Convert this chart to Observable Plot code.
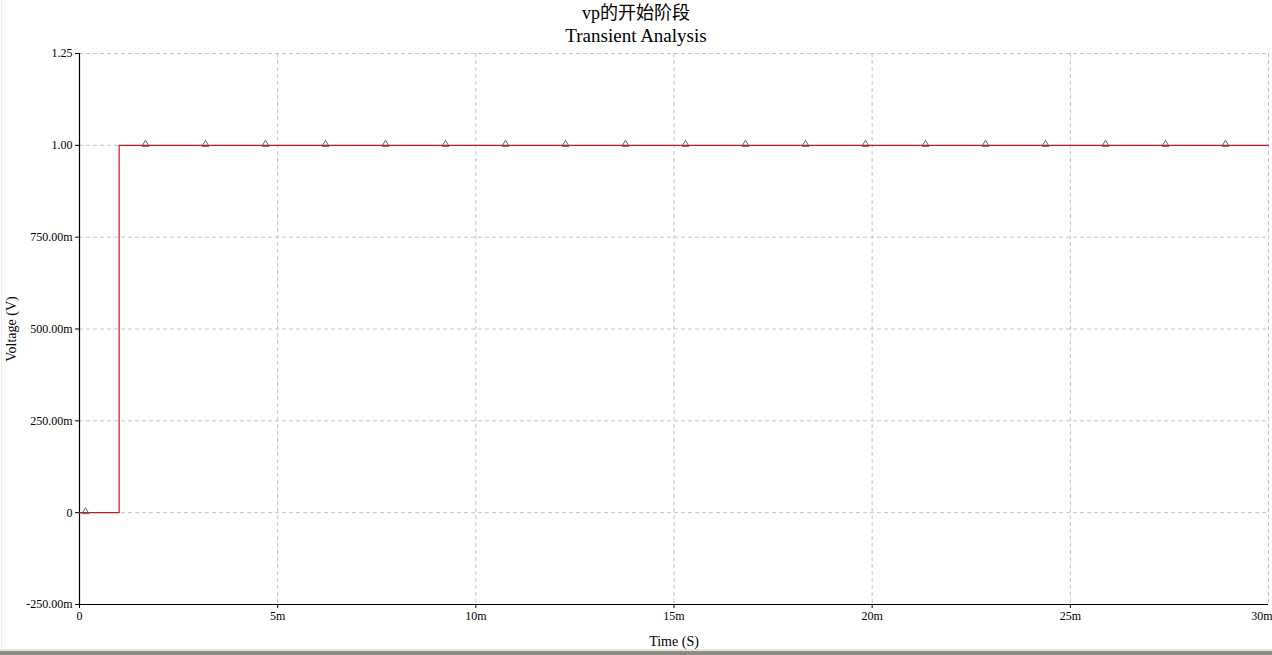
<!DOCTYPE html>
<html>
<head>
<meta charset="utf-8">
<script src="https://cdn.jsdelivr.net/npm/d3@7"></script>
<script src="https://cdn.jsdelivr.net/npm/@observablehq/plot@0.6"></script>
<style>
  body { margin: 0; background: #fff; }
  #page { position: relative; width: 1272px; height: 655px; overflow: hidden; background: #fff; }
  .t { position: absolute; left: 0; width: 1272px; text-align: center; color: #000;
       font-family: "Liberation Serif", "Noto Sans CJK SC", serif; line-height: 1; }
  #chart { position: absolute; left: 0; top: 48px; }
  #bar1 { position: absolute; left: 0; top: 649px; width: 1272px; height: 2px; background: #e4e2dc; }
  #bar2 { position: absolute; left: 0; top: 651px; width: 1272px; height: 4px; background: #8f8c86; }
  #edge { position: absolute; left: 1px; top: 0; width: 1px; height: 649px; background: #eeeeee; }
</style>
</head>
<body>
<div id="page">
  <div id="edge"></div>
  <div class="t" id="title" style="top:4px;font-size:18px;">vp的开始阶段</div>
  <div class="t" id="subtitle" style="top:26px;font-size:19px;">Transient Analysis</div>
  <div id="chart"></div>
  <div id="bar1"></div>
  <div id="bar2"></div>
</div>
<script>
// Data (time in ms, voltage in V)
const titleText = "vp的开始阶段";
const subtitleText = "Transient Analysis";
const xLabel = "Time (S)";
const yLabel = "Voltage (V)";

const traceTime = [0, 1, 1, 30];
const traceVolt = [0, 0, 1, 1];

const markerTime = [0.15, 1.665, 3.179, 4.693, 6.207, 7.721, 9.235, 10.749, 12.263, 13.776,
                    15.29, 16.804, 18.318, 19.832, 21.346, 22.86, 24.374, 25.888, 27.402, 28.915];
const markerVolt = [0, 1, 1, 1, 1, 1, 1, 1, 1, 1, 1, 1, 1, 1, 1, 1, 1, 1, 1, 1];

const xTicks = [0, 5, 10, 15, 20, 25, 30];
const xTickLabels = ["0", "5m", "10m", "15m", "20m", "25m", "30m"];
const yTicks = [-0.25, 0, 0.25, 0.5, 0.75, 1.0, 1.25];
const yTickLabels = ["-250.00m", "0", "250.00m", "500.00m", "750.00m", "1.00", "1.25"];

const trace = traceTime.map((t, i) => ({t, v: traceVolt[i]}));
const markers = markerTime.map((t, i) => ({t, v: markerVolt[i]}));
const xFmt = d => xTickLabels[xTicks.indexOf(d)];
const lastX = xTicks[xTicks.length - 1];

const chart = Plot.plot({
  width: 1272,
  height: 603,
  marginLeft: 79,
  marginRight: 4,
  marginTop: 5,
  marginBottom: 47,
  style: {fontFamily: "'Liberation Serif', serif", fontSize: "12px", color: "#000", background: "transparent", overflow: "visible"},
  x: {domain: [0, 30]},
  y: {domain: [-0.25, 1.25]},
  marks: [
    Plot.ruleY(yTicks.filter(d => d > -0.25), {stroke: "#c4c4c4", strokeDasharray: "4,3", strokeWidth: 1}),
    Plot.ruleX(xTicks.filter(d => d > 0), {stroke: "#c4c4c4", strokeDasharray: "4,3", strokeWidth: 1}),
    Plot.axisX({ticks: xTicks.slice(0, -1), tickFormat: xFmt, tickSize: 4, tickPadding: 3, label: null, stroke: "#000"}),
    Plot.axisX({ticks: [lastX], tickFormat: xFmt, tickSize: 4, tickPadding: 3, label: null, stroke: "#000", textAnchor: "end", dx: 4}),
    Plot.axisY({ticks: yTicks, tickFormat: d => yTickLabels[yTicks.findIndex(v => Math.abs(v - d) < 1e-9)], tickSize: 4, tickPadding: 3, label: null, stroke: "#000"}),
    Plot.ruleX([0], {stroke: "#000", strokeWidth: 1.2}),
    Plot.ruleY([-0.25], {stroke: "#000", strokeWidth: 1.2}),
    Plot.line(trace, {x: "t", y: "v", stroke: "#c41a1a", strokeWidth: 1.2}),
    Plot.dot(markers, {x: "t", y: "v", symbol: "triangle", r: 2.6, stroke: "#555", strokeWidth: 0.9, fill: "none", dy: -1}),
    Plot.text([xLabel], {frameAnchor: "bottom", dy: 37, text: d => d, fontSize: 14, textAnchor: "middle", lineAnchor: "middle"}),
    Plot.text([yLabel], {frameAnchor: "left", dx: -68, rotate: -90, text: d => d, fontSize: 14, textAnchor: "middle", lineAnchor: "middle"})
  ]
});
document.getElementById("chart").appendChild(chart);
</script>
</body>
</html>
